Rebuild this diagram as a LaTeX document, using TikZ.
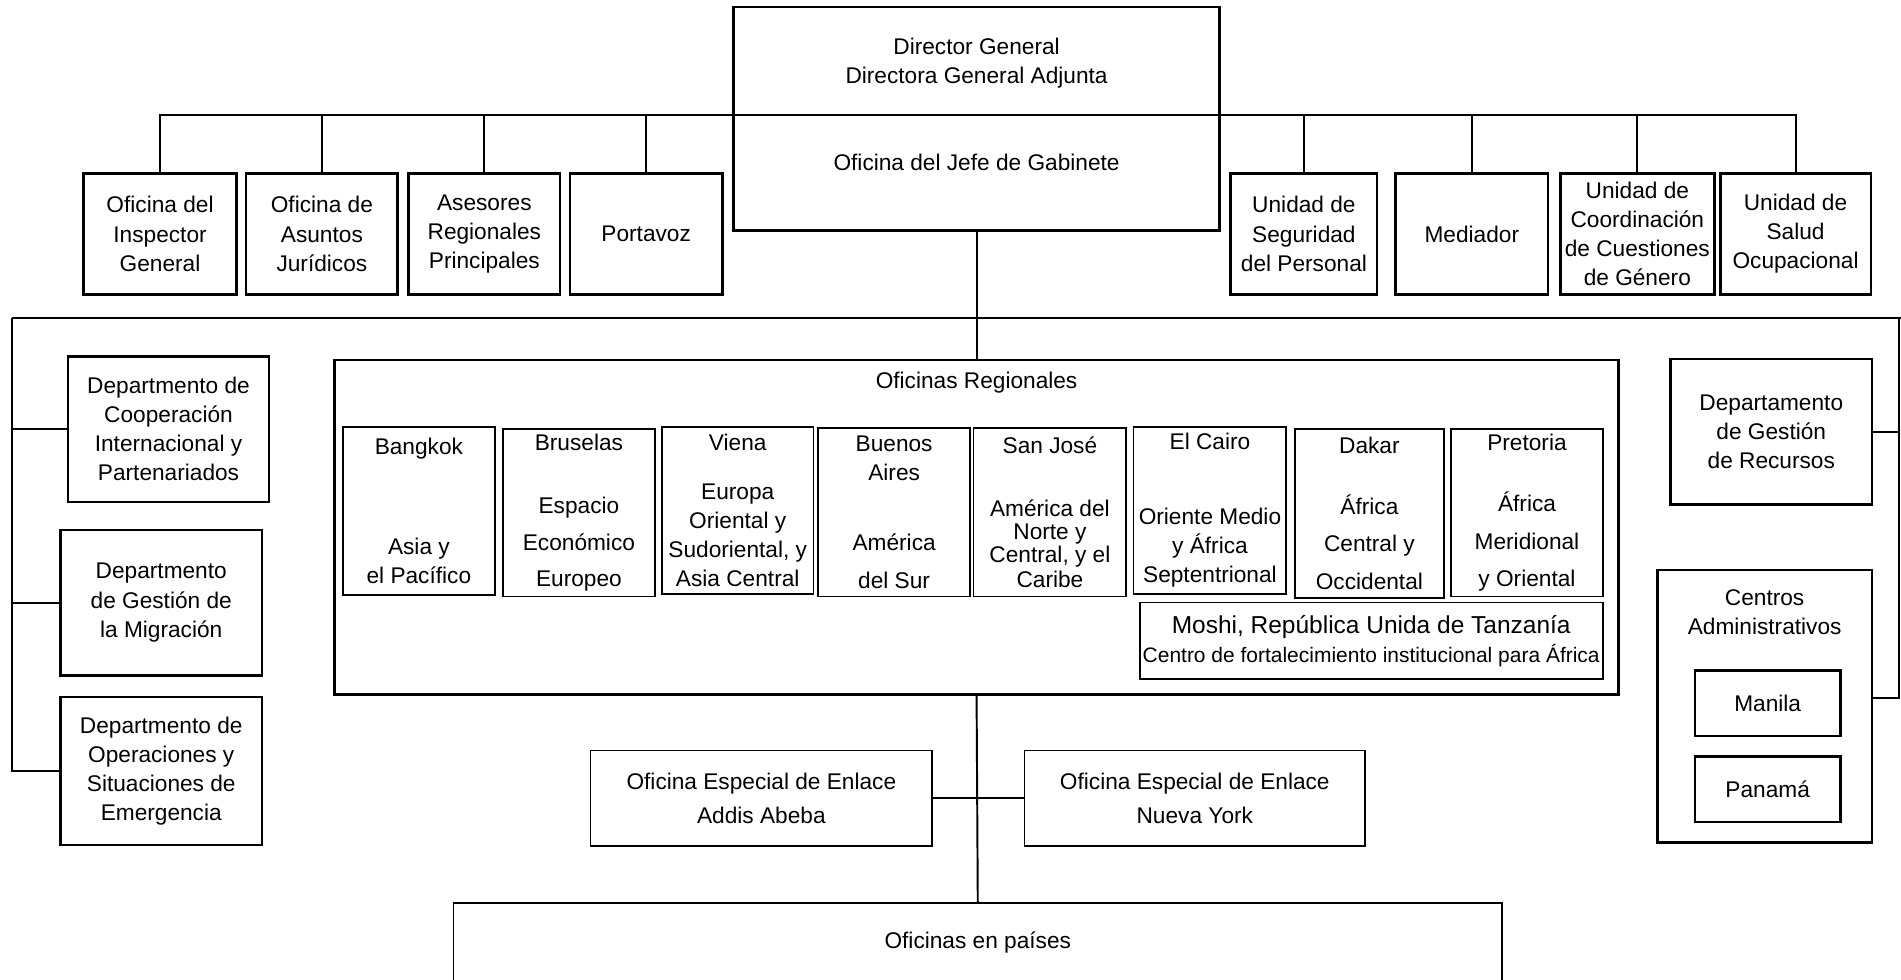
\documentclass[tikz,border=0pt]{standalone}
\usepackage{fontspec}
\setmainfont{Liberation Sans}
\begin{document}
\begin{tikzpicture}[x=1pt,y=-1pt,
    every node/.style={font=\fontsize{18.7}{24}\selectfont, align=center, inner sep=0pt, outer sep=0pt},
    box/.style={draw, line width=2pt},
    inbox/.style={draw, line width=1.5pt},
    link/.style={line width=1.6pt}]
    % page
    \clip (0,0) rectangle (1568,808);
    \fill[white] (0,0) rectangle (1568,808);

    % director general
    \node[box, minimum width=401pt, minimum height=184pt] (dg) at (805.5,98) {};
    \node (dgtxt) at (805.5,52) {Director General\\Directora General Adjunta};
    \node (jefe) at (805.5,134) {Oficina del Jefe de Gabinete};

    % top row
    \node[box, minimum width=126pt, minimum height=100pt] (oig) at (132,193) {Oficina del\\Inspector\\General};
    \node[box, minimum width=125pt, minimum height=100pt] (oaj) at (265.5,193) {Oficina de\\Asuntos\\Jurídicos};
    \node[box, minimum width=125pt, minimum height=100pt] (arp) at (399.5,193) {Asesores\\Regionales\\Principales};
    \node[box, minimum width=126pt, minimum height=100pt] (portavoz) at (533,193) {Portavoz};
    \node[box, minimum width=121pt, minimum height=100pt] (usp) at (1075.5,193) {Unidad de\\Seguridad\\del Personal};
    \node[box, minimum width=126pt, minimum height=100pt] (mediador) at (1214,193) {Mediador};
    \node[box, minimum width=127pt, minimum height=100pt] (uccg) at (1350.5,193) {Unidad de\\Coordinación\\de Cuestiones\\de Género};
    \node[box, minimum width=124pt, minimum height=100pt] (uso) at (1481,193) {Unidad de\\Salud\\Ocupacional};

    % departments left
    \node[box, minimum width=166pt, minimum height=120pt] (dcip) at (139,354) {Departmento de\\Cooperación\\Internacional y\\Partenariados};
    \node[box, minimum width=166pt, minimum height=120pt] (dgm) at (133,497) {Departmento\\de Gestión de\\la Migración};
    \node[box, minimum width=166pt, minimum height=122pt] (dose) at (133,636) {Departmento de\\Operaciones y\\Situaciones de\\Emergencia};

    % regional offices
    \node[box, minimum width=1059pt, minimum height=276pt] (oreg) at (805.5,435) {};
    \node (oregtxt) at (805.5,316) {Oficinas Regionales};
    \node[inbox, minimum width=125pt, minimum height=139pt] (bkk) at (345.5,421.5) {Bangkok\\[58pt]Asia y\\el Pacífico};
    \node[inbox, minimum width=125pt, minimum height=138pt] (bru) at (477.5,423) {Bruselas\\[28pt]Espacio\\[6pt]Económico\\[6pt]Europeo};
    \node[inbox, minimum width=125pt, minimum height=138pt] (vie) at (608.5,421) {Viena\\[16pt]Europa\\Oriental y\\Sudoriental, y\\Asia Central};
    \node[inbox, minimum width=125pt, minimum height=139pt] (bue) at (737.5,422.5) {Buenos\\Aires\\[34pt]América\\[7pt]del Sur};
    \node[inbox, minimum width=126pt, minimum height=139pt] (sjo) at (866,422.5) {San José\\[28pt]América del\\[-5pt]Norte y\\[-5pt]Central, y el\\[-4pt]Caribe};
    \node[inbox, minimum width=126pt, minimum height=138pt] (cai) at (998,421) {El Cairo\\[38pt]Oriente Medio\\y África\\Septentrional};
    \node[inbox, minimum width=123pt, minimum height=139pt] (dak) at (1129.5,423.5) {Dakar\\[26pt]África\\[7pt]Central y\\[7pt]Occidental};
    \node[inbox, minimum width=125pt, minimum height=138pt] (pre) at (1259.5,423) {Pretoria\\[26pt]África\\[7pt]Meridional\\[7pt]y Oriental};
    \node[inbox, minimum width=382pt, minimum height=63pt] (moshi) at (1131,528.5)
        {{\fontsize{20.2}{24}\selectfont Moshi, República Unida de Tanzanía}\\
         {\fontsize{17.3}{24}\selectfont Centro de fortalecimiento institucional para África}};

    % departments right
    \node[box, minimum width=166pt, minimum height=120pt] (dgr) at (1461,356) {Departamento\\de Gestión\\de Recursos};
    \node[box, minimum width=177pt, minimum height=225pt] (cadm) at (1455.5,582.5) {};
    \node (cadmtxt) at (1455.5,505) {Centros\\Administrativos};
    \node[box, minimum width=120pt, minimum height=54pt] (manila) at (1458,580) {Manila};
    \node[box, minimum width=120pt, minimum height=54pt] (panama) at (1458,651) {Panamá};

    % liaison and country offices
    \node[inbox, minimum width=282pt, minimum height=79pt] (addis) at (628,658.5) {Oficina Especial de Enlace\\[4pt]Addis Abeba};
    \node[inbox, minimum width=281pt, minimum height=79pt] (ny) at (985.5,658.5) {Oficina Especial de Enlace\\[4pt]Nueva York};
    \node[inbox, minimum width=865pt, minimum height=120pt, anchor=north] (paises) at (806.5,745) {};
    \node (paisestxt) at (806.5,777) {Oficinas en países};

    % lines
    \coordinate (tbar) at (0,95);
    \coordinate (lrail) at (10,262);
    \coordinate (rrail) at (1566,262);
    \draw[link] (oig.north) |- (uso.north |- tbar) -- (uso.north);
    \draw[link] (oaj.north) -- (oaj.north |- tbar);
    \draw[link] (arp.north) -- (arp.north |- tbar);
    \draw[link] (portavoz.north) -- (portavoz.north |- tbar);
    \draw[link] (usp.north) -- (usp.north |- tbar);
    \draw[link] (mediador.north) -- (mediador.north |- tbar);
    \draw[link] (uccg.north) -- (uccg.north |- tbar);
    \draw[link] (dg.south) -- (oreg.north);
    \draw[link] (lrail) -- (rrail) -- ++(4,0);
    \draw[link] (lrail) |- (dose.west);
    \draw[link] (dcip.west) -- (dcip.west -| lrail);
    \draw[link] (dgm.west) -- (dgm.west -| lrail);
    \draw[link] (rrail) |- ([yshift=7pt]cadm.east);
    \draw[link] (dgr.east) -- (dgr.east -| rrail);
    \draw[link] (oreg.south) -- (paises.north);
    \draw[link] (addis.east) -- (ny.west);

\end{tikzpicture}
\end{document}
